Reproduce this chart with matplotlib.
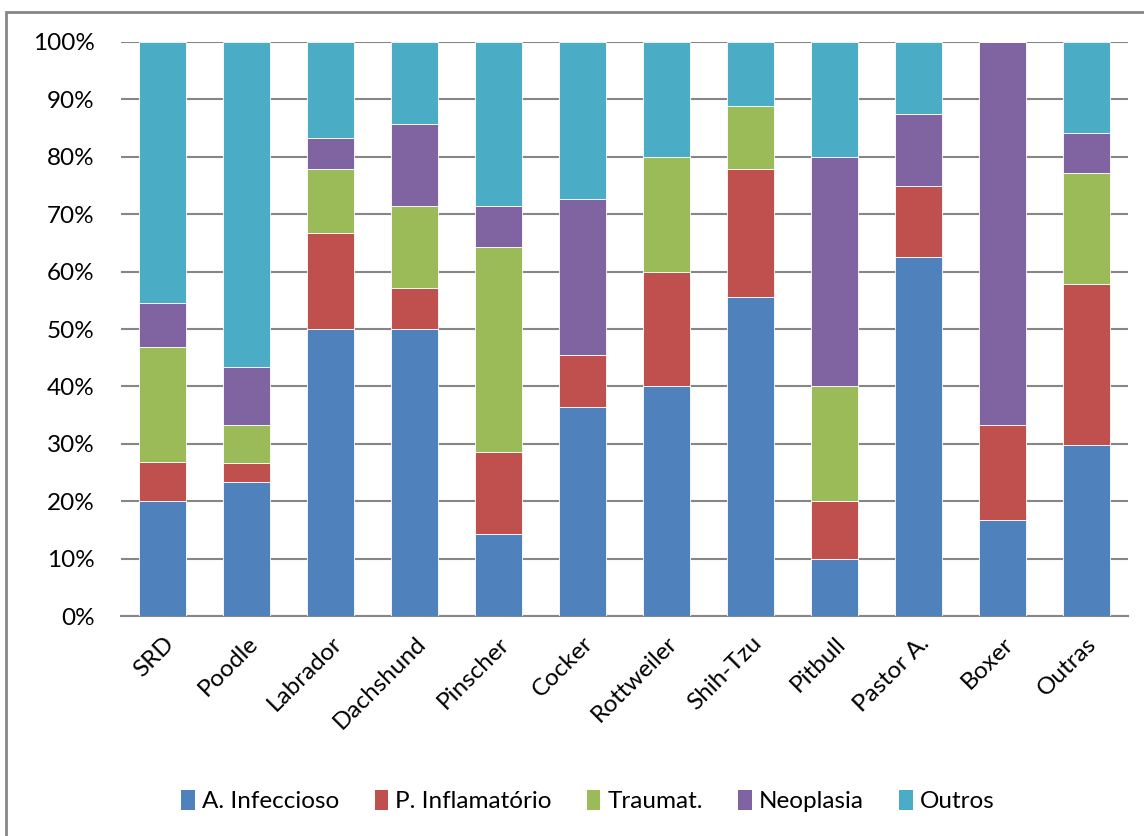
import matplotlib.pyplot as plt
import numpy as np
from matplotlib.patches import Rectangle, Patch

plt.rcParams['font.family'] = ['Lato', 'DejaVu Sans']

# racas e percentuais por grupo de afeccao
racas = ["SRD", "Poodle", "Labrador", "Dachshund", "Pinscher", "Cocker",
         "Rottweiler", "Shih-Tzu", "Pitbull", "Pastor A.", "Boxer", "Outras"]
infeccioso = [20.0, 23.3, 50.0, 50.0, 14.3, 36.4, 40.0, 55.6, 10.0, 62.5, 16.7, 29.8]
inflamatorio = [6.8, 3.4, 16.7, 7.1, 14.3, 9.1, 20.0, 22.2, 10.0, 12.5, 16.6, 28.1]
traumat = [20.1, 6.6, 11.1, 14.3, 35.7, 0.0, 20.0, 11.1, 20.0, 0.0, 0.0, 19.3]
neoplasia = [7.6, 10.1, 5.5, 14.3, 7.1, 27.2, 0.0, 0.0, 40.0, 12.5, 66.7, 7.0]
outros = [45.5, 56.6, 16.7, 14.3, 28.6, 27.3, 20.0, 11.1, 20.0, 12.5, 0.0, 15.8]

series = [
    ("A. Infeccioso", infeccioso, "#4F81BD"),
    ("P. Inflamatório", inflamatorio, "#C0504D"),
    ("Traumat.", traumat, "#9BBB59"),
    ("Neoplasia", neoplasia, "#8064A2"),
    ("Outros", outros, "#4BACC6"),
]

fig = plt.figure(figsize=(11.44, 8.36), dpi=100)
ax = fig.add_axes([0.1058, 0.263, 0.8802, 0.6868])

x = np.arange(len(racas))
bottom = np.zeros(len(racas))
handles = []
for nome, vals, cor in series:
    vals = np.array(vals)
    ax.bar(x, vals, 0.56, bottom=bottom, color=cor, edgecolor="#ffffff",
           linewidth=0.6, zorder=3)
    bottom += vals
    handles.append(Patch(facecolor=cor, label=nome))

ax.set_xlim(-0.5, len(racas) - 0.5)
ax.set_ylim(0, 100)
ax.set_yticks(np.arange(0, 101, 10))
ax.set_yticklabels([f"{v}%" for v in range(0, 101, 10)], fontsize=17.5)
ax.set_xticks(x)
ax.set_xticklabels(racas, rotation=45, ha="right", rotation_mode="anchor",
                   fontsize=17.5)
ax.tick_params(axis="both", length=0, pad=12)
ax.tick_params(axis="y", pad=19)
ax.grid(axis="y", color="#868686", linewidth=1.5, zorder=0)
for s in ["left", "right", "top"]:
    ax.spines[s].set_visible(False)
ax.spines["bottom"].set_color("#868686")
ax.spines["bottom"].set_linewidth(1.5)

fig.legend(handles=handles, loc="center", bbox_to_anchor=(0.514, 1 - 801 / 836),
           ncol=5, frameon=False, fontsize=17.5, handlelength=0.55,
           handleheight=0.9, handletextpad=0.3, columnspacing=1.45)

# moldura do grafico
fig.patches.append(Rectangle((6 / 1144, -0.05), 1.2, 1.05 - 12 / 836,
                             transform=fig.transFigure, fill=False,
                             edgecolor="#868686", linewidth=2))

fig.savefig("out.png", dpi=100)
